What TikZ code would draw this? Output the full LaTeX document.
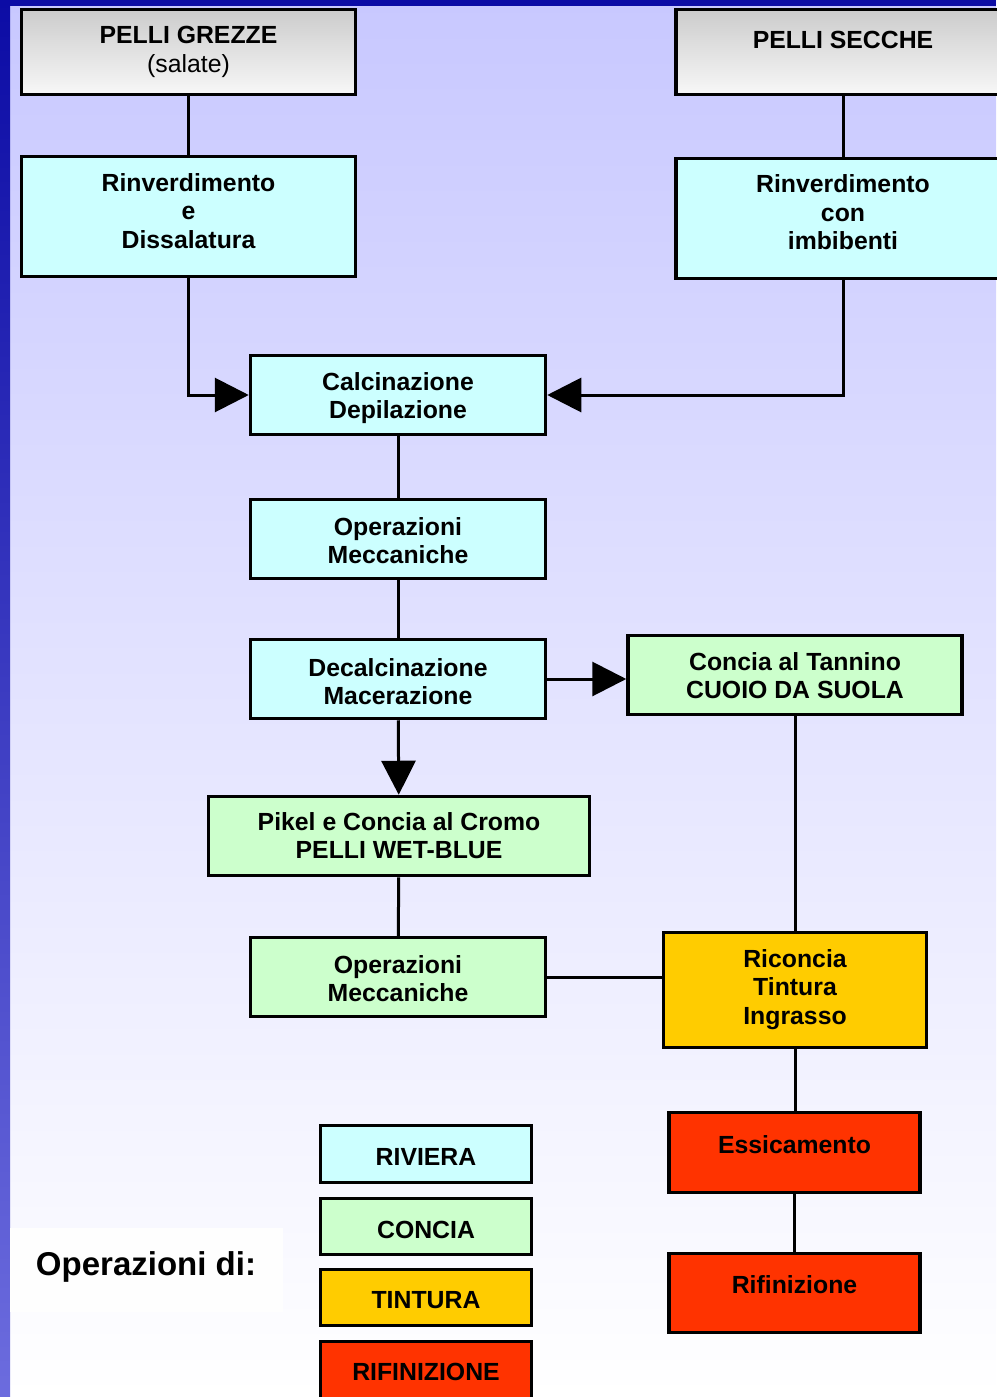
\documentclass[tikz,border=0pt]{standalone}
\usepackage{fontspec}
\setmainfont{Liberation Sans}
\usetikzlibrary{arrows.meta}

\definecolor{riviera}{HTML}{CCFFFF}
\definecolor{concia}{HTML}{CCFFCC}
\definecolor{tintura}{HTML}{FFCC00}
\definecolor{rifin}{HTML}{FF3300}
\definecolor{bgtop}{RGB}{200,200,255}
\definecolor{bandtop}{RGB}{12,12,165}
\definecolor{stripbot}{RGB}{108,108,222}

% raise text without changing the size the node sees
\newcommand{\lift}[2]{\raisebox{#1}[\height][\depth]{#2}}
% centred lines with an even line pitch
\newcommand{\lines}[1]{\begin{tabular}{@{}c@{}}#1\end{tabular}}

\begin{document}
\begin{tikzpicture}[x=1pt,y=-1pt,
  box/.style={draw=black, line width=3.5pt, align=center, inner sep=0pt,
    font=\fontsize{24.8}{28.5}\selectfont\bfseries},
  raw/.style={box, top color=black!20, bottom color=black!3},
  link/.style={line width=3pt},
  flow/.style={line width=3pt, -{Triangle[length=34pt,width=34pt]}},
]

% page background
\useasboundingbox (0,0) rectangle (996,1397);
\shade[top color=bgtop, bottom color=white] (0,0) rectangle (996,1397);
\shade[top color=bandtop, bottom color=stripbot] (0,0) rectangle (10,1397);
\fill[bandtop] (0,0) rectangle (996,6);
\fill[white!60!black!1] (10,1228) rectangle (283,1312);

% raw hides
\node[raw, minimum width=334, minimum height=85] (pg) at (188.5,52)
  {PELLI GREZZE\\{\mdseries (salate)}};
\node[raw, minimum width=334, minimum height=85] (ps) at (843,52)
  {\lift{12pt}{PELLI SECCHE}};

% riviera
\node[box, fill=riviera, minimum width=334, minimum height=120] (rd) at (188.5,216.5)
  {\lift{2.5pt}{\lines{Rinverdimento\\e\\Dissalatura}}};
\node[box, fill=riviera, minimum width=334, minimum height=120] (ri) at (843,218.5)
  {\lift{3pt}{\lines{Rinverdimento\\con\\imbibenti}}};
\node[box, fill=riviera, minimum width=295, minimum height=79] (calc) at (398,395)
  {\lift{-4pt}{\lines{Calcinazione\\Depilazione}}};
\node[box, fill=riviera, minimum width=295, minimum height=79] (om1) at (398,539)
  {\lift{-5pt}{\lines{Operazioni\\Meccaniche}}};
\node[box, fill=riviera, minimum width=295, minimum height=79] (dec) at (398,679)
  {\lift{-6pt}{\lines{Decalcinazione\\Macerazione}}};

% concia
\node[box, fill=concia, minimum width=334, minimum height=79] (tann) at (795,675)
  {\lift{-4pt}{\lines{Concia al Tannino\\CUOIO DA SUOLA}}};
\node[box, fill=concia, minimum width=381, minimum height=79] (pik) at (399,836)
  {\lift{-3pt}{\lines{Pikel e Concia al Cromo\\PELLI WET-BLUE}}};
\node[box, fill=concia, minimum width=295, minimum height=79] (om2) at (398,977)
  {\lift{-5pt}{\lines{Operazioni\\Meccaniche}}};

% tintura and rifinizione
\node[box, fill=tintura, minimum width=263, minimum height=115] (ric) at (795,990)
  {\lines{Riconcia\\Tintura\\Ingrasso}};
\node[box, fill=rifin, minimum width=251, minimum height=80] (ess) at (794.5,1152.5)
  {\lift{7.5pt}{Essicamento}};
\node[box, fill=rifin, minimum width=251, minimum height=79] (rif) at (794.5,1293)
  {\lift{8pt}{Rifinizione}};

% connectors
\draw[link] (pg) -- (rd);
\draw[link] (ps) -- (ri);
\draw[flow] (rd.south) |- (calc.west);
\draw[flow] (ri.south) |- (calc.east);
\draw[link] (calc) -- (om1);
\draw[link] (om1) -- (dec);
\draw[flow] (dec.east) -- (dec.east -| tann.west);
\draw[flow] (dec) -- (pik);
\draw[link] (pik) -- (om2);
\draw[link] (om2.east) -- (om2.east -| ric.west);
\draw[link] (tann.south) -- (tann.south |- ric.north);
\draw[link] (ric.south) -- (ric.south |- ess.north);
\draw[link] (ess) -- (rif);

% legend
\node[font=\fontsize{33}{38}\selectfont\bfseries] (legtitle) at (146,1267) {Operazioni di:};
\node[box, fill=riviera, minimum width=211, minimum height=57] (lriv) at (426,1154)
  {\lift{-3pt}{RIVIERA}};
\node[box, fill=concia, minimum width=211, minimum height=56] (lcon) at (426,1226.5)
  {\lift{-3pt}{CONCIA}};
\node[box, fill=tintura, minimum width=211, minimum height=56] (ltin) at (426,1297.5)
  {\lift{-3pt}{TINTURA}};
\node[box, fill=rifin, minimum width=211, minimum height=57] (lrif) at (426,1370)
  {\lift{-2pt}{RIFINIZIONE}};

\end{tikzpicture}
\end{document}
